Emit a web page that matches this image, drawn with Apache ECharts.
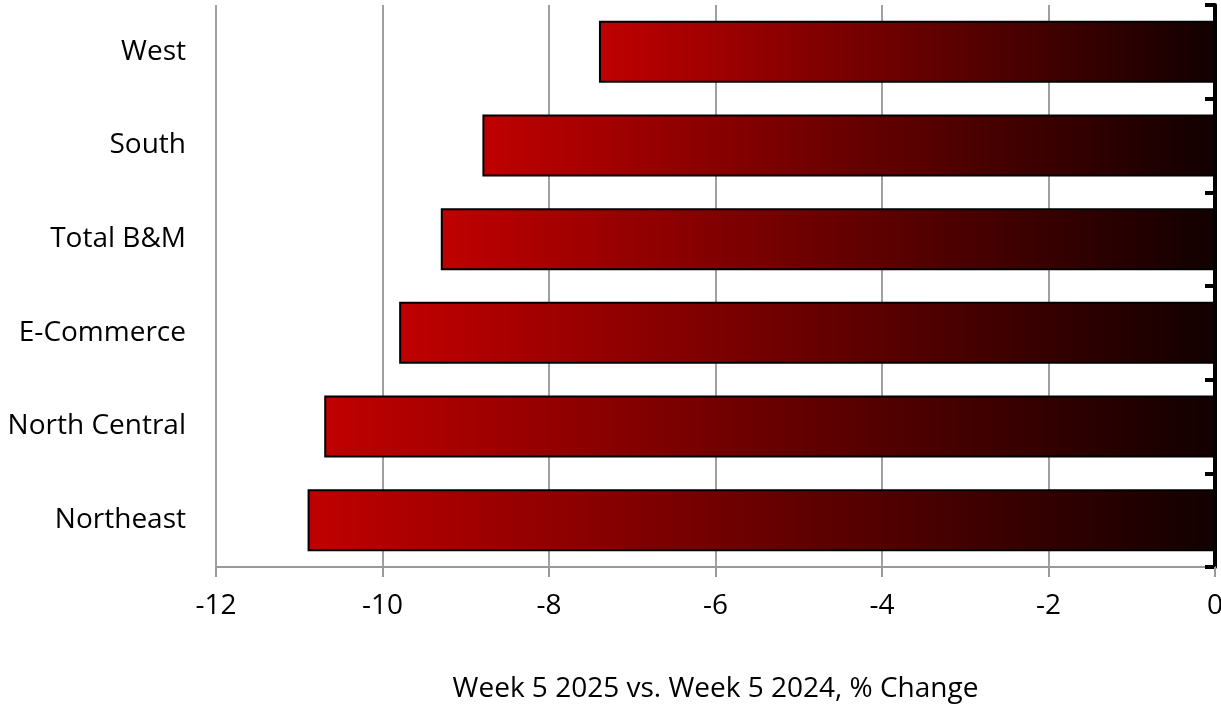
<!DOCTYPE html>
<html>
<head>
<meta charset="utf-8">
<script src="https://cdn.jsdelivr.net/npm/echarts@6/dist/echarts.min.js"></script>
<style>
  html, body { margin: 0; padding: 0; background: #fff; }
  #chart { width: 1221px; height: 705px; }
</style>
</head>
<body>
<div id="chart"></div>
<script>
// regions, bottom to top as drawn
var regions = ['Northeast', 'North Central', 'E-Commerce', 'Total B&M', 'South', 'West'];
var pctChange = [-10.9, -10.7, -9.8, -9.3, -8.8, -7.4];
var axisTitle = 'Week 5 2025 vs. Week 5 2024, % Change';

var myChart = echarts.init(document.getElementById('chart'));
var font = 'Open Sans, sans-serif';

myChart.setOption({
    animation: false,
    grid: { left: 216, right: 6, top: 5, bottom: 138, containLabel: false, outerBoundsMode: 'none' },
    xAxis: {
        type: 'value',
        min: -12,
        max: 0,
        interval: 2,
        name: axisTitle,
        nameLocation: 'middle',
        nameGap: 108,
        nameTextStyle: { fontFamily: font, fontSize: 28, color: '#000' },
        axisLine: { show: true, lineStyle: { color: '#999', width: 2 } },
        axisTick: { show: true, length: 10, lineStyle: { color: '#999', width: 2 } },
        axisLabel: { fontFamily: font, fontSize: 28, color: '#000', margin: 25 },
        splitLine: { show: true, lineStyle: { color: '#a0a0a0', width: 2 } }
    },
    yAxis: [{
        type: 'category',
        data: regions,
        position: 'left',
        axisLine: { show: false },
        axisTick: { show: false },
        axisLabel: { fontFamily: font, fontSize: 28, color: '#000', margin: 30 }
    }, {
        // black axis line at zero with inward ticks
        type: 'category',
        data: regions,
        position: 'right',
        axisLine: { show: true, onZero: false, lineStyle: { color: '#000', width: 4 } },
        axisTick: { show: true, inside: true, length: 10, lineStyle: { color: '#000', width: 4 } },
        axisLabel: { show: false }
    }],
    series: [{
        type: 'bar',
        yAxisIndex: 0,
        data: pctChange,
        barWidth: 62,
        itemStyle: {
            borderColor: '#000',
            borderWidth: 2,
            color: new echarts.graphic.LinearGradient(0, 0, 1, 0, [
                { offset: 0, color: '#c00000' },
                { offset: 1, color: '#120000' }
            ])
        }
    }]
});
</script>
</body>
</html>
